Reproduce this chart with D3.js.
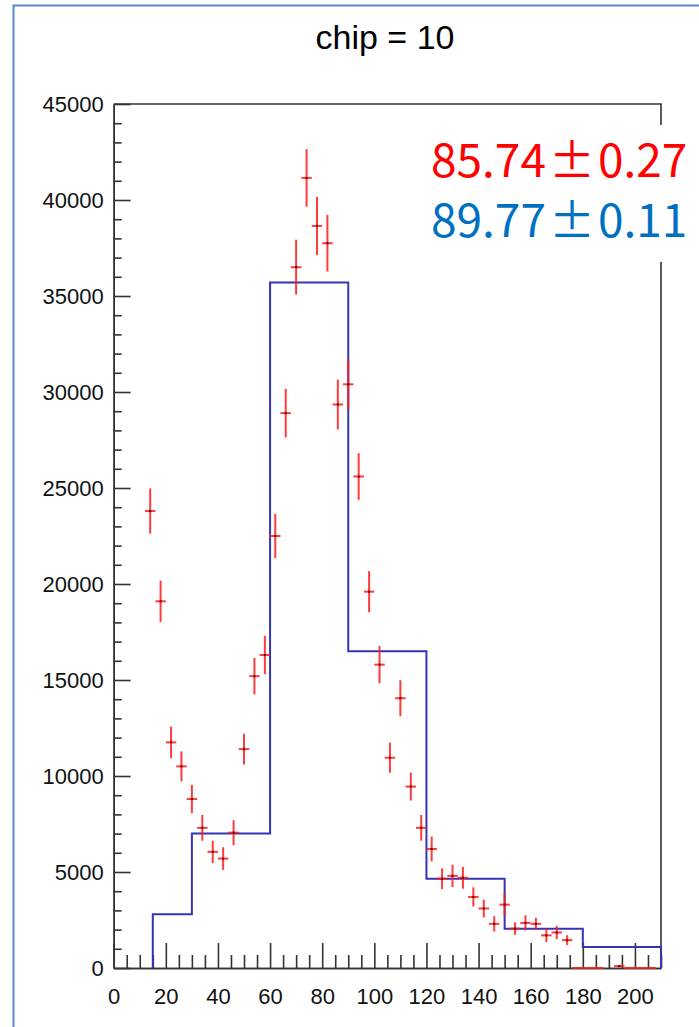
<!DOCTYPE html>
<html>
<head>
<meta charset="utf-8">
<script src="https://cdn.jsdelivr.net/npm/d3@7"></script>
<style>
  html, body { margin: 0; padding: 0; background: #fff; }
  svg { display: block; }
</style>
</head>
<body>
<svg id="chart" width="699" height="1027"></svg>
<script>
// Bin centres of the measured distribution (bin width 4)
const binCenters = [14, 18, 22, 26, 30, 34, 38, 42, 46, 50, 54, 58, 62, 66, 70, 74, 78, 82, 86, 90,
  94, 98, 102, 106, 110, 114, 118, 122, 126, 130, 134, 138, 142, 146, 150, 154, 158, 162, 166, 170,
  174, 178, 182, 186, 190, 194, 198, 202, 206];
// Bin contents (null = empty bin, not drawn)
const binValues = [23800, 19100, 11750, 10500, 8800, 7300, 6050, 5700, 7050, 11400, 15200, 16300, 22500, 28900, 36500, 41150, 38650, 37750, 29350, 30400,
  25600, 19600, 15800, 10950, 14050, 9450, 7300, 6200, 4650, 4800, 4700, 3700, 3100, 2300, 3300, 2050, 2350, 2300, 1700, 1850,
  1450, 0, 0, 0, null, 100, 0, 0, 0];
// Bin errors
const binErrors = [1180, 1075, 820, 780, 740, 670, 580, 590, 650, 800, 950, 1000, 1150, 1260, 1430, 1500, 1510, 1475, 1300, 1300,
  1215, 1070, 970, 780, 940, 730, 670, 650, 540, 580, 570, 500, 460, 400, 610, 320, 390, 320, 350, 350,
  260, 0, 0, 0, 0, 60, 0, 0, 0];
const binWidth = 4;

// Coarse reference histogram (edges and contents)
const histEdges = [15, 30, 60, 90, 120, 150, 180, 210];
const histValues = [2800, 7000, 35700, 16500, 4650, 2050, 1100];

// Axis ticks
const xMajorTicks = [0, 20, 40, 60, 80, 100, 120, 140, 160, 180, 200];
const yMajorTicks = [0, 5000, 10000, 15000, 20000, 25000, 30000, 35000, 40000, 45000];

const titleText = "chip = 10";
const fitLines = [
  { value: "85.74", err: "0.27", color: "#ff0000" },
  { value: "89.77", err: "0.11", color: "#0070c0" }
];

const svg = d3.select("#chart");
const plotLeft = 113.7, plotRight = 661, plotTop = 104, plotBottom = 968;

const x = d3.scaleLinear().domain([0, 210]).range([plotLeft, plotRight]);
const y = d3.scaleLinear().domain([0, 45000]).range([plotBottom, plotTop]);

// Outer picture border
svg.append("path")
  .attr("d", `M13.5,1027 L13.5,5.5 L699,5.5`)
  .attr("fill", "none")
  .attr("stroke", "#5b86cf")
  .attr("stroke-width", 2);

// Title
svg.append("text")
  .attr("x", 385).attr("y", 49)
  .attr("text-anchor", "middle")
  .attr("font-family", "'Liberation Sans', Arial, sans-serif")
  .attr("font-size", 34)
  .attr("fill", "#000")
  .text(titleText);

const axisColor = "#333";
const labelFont = "'Liberation Sans', Arial, sans-serif";

// Minor ticks (drawn inside the frame)
const xMinor = d3.range(0, 211, 5).filter(v => v % 20 !== 0);
const yMinor = d3.range(0, 45001, 1000).filter(v => v % 5000 !== 0);

const gxMinor = svg.append("g").attr("transform", `translate(0,${plotBottom})`)
  .call(d3.axisBottom(x).tickValues(xMinor).tickSizeInner(-13).tickSizeOuter(0).tickFormat(""));
const gx = svg.append("g").attr("transform", `translate(0,${plotBottom})`)
  .call(d3.axisBottom(x).tickValues(xMajorTicks).tickSizeInner(-25).tickSizeOuter(0).tickPadding(20).tickFormat(d3.format("d")));

const gyMinor = svg.append("g").attr("transform", `translate(${plotLeft},0)`)
  .call(d3.axisLeft(y).tickValues(yMinor).tickSizeInner(-8).tickSizeOuter(0).tickFormat(""));
const gy = svg.append("g").attr("transform", `translate(${plotLeft},0)`)
  .call(d3.axisLeft(y).tickValues(yMajorTicks).tickSizeInner(-17).tickSizeOuter(0).tickPadding(10).tickFormat(d3.format("d")));

[gxMinor, gx, gyMinor, gy].forEach(g => {
  g.selectAll("path, line").attr("stroke", axisColor).attr("stroke-width", 1.6);
  g.selectAll("text").attr("font-family", labelFont).attr("font-size", 22).attr("fill", "#111");
});

// Frame top and right edges
svg.append("path")
  .attr("d", `M${plotLeft},${plotTop} L${plotRight},${plotTop} L${plotRight},${plotBottom}`)
  .attr("fill", "none").attr("stroke", axisColor).attr("stroke-width", 1.6);

// Reference histogram as a step outline
const stepPts = [[histEdges[0], 0]];
histValues.forEach((v, i) => {
  stepPts.push([histEdges[i], v]);
  stepPts.push([histEdges[i + 1], v]);
});
stepPts.push([histEdges[histEdges.length - 1], 0]);
svg.append("path")
  .datum(stepPts)
  .attr("d", d3.line().x(d => x(d[0])).y(d => y(d[1])))
  .attr("fill", "none")
  .attr("stroke", "#3434b4")
  .attr("stroke-width", 2);

// Data points with error bars
const pts = binCenters.map((c, i) => ({ c, v: binValues[i], e: binErrors[i] })).filter(d => d.v !== null);
const gp = svg.append("g");
const cross = gp.selectAll("g.pt").data(pts).join("g").attr("class", "pt");
cross.append("line")
  .attr("x1", d => x(d.c - binWidth / 2)).attr("x2", d => x(d.c + binWidth / 2))
  .attr("y1", d => y(d.v)).attr("y2", d => y(d.v))
  .attr("stroke", "#ff1a1a").attr("stroke-width", 2).attr("stroke-opacity", 0.85);
cross.filter(d => d.e > 0).append("line")
  .attr("x1", d => x(d.c)).attr("x2", d => x(d.c))
  .attr("y1", d => y(d.v - d.e)).attr("y2", d => y(d.v + d.e))
  .attr("stroke", "#ff1a1a").attr("stroke-width", 2).attr("stroke-opacity", 0.85);
cross.filter(d => d.v > 0).append("rect")
  .attr("x", d => x(d.c) - 1).attr("y", d => y(d.v) - 1)
  .attr("width", 2).attr("height", 2)
  .attr("fill", "#600");

// Fit result box
svg.append("rect")
  .attr("x", 425).attr("y", 125).attr("width", 274).attr("height", 137)
  .attr("fill", "#fff");

const cjk = "'Noto Sans CJK JP', 'Noto Sans', sans-serif";
fitLines.forEach((f, i) => {
  const base = 177 + i * 59.5;
  const g = svg.append("g").attr("fill", f.color)
    .attr("font-family", cjk).attr("font-size", 46);
  g.append("text").attr("x", 431).attr("y", base).text(f.value);
  g.append("text").attr("x", 572).attr("y", base).attr("text-anchor", "middle").text("±");
  g.append("text").attr("x", 598).attr("y", base).text(f.err);
});
</script>
</body>
</html>
